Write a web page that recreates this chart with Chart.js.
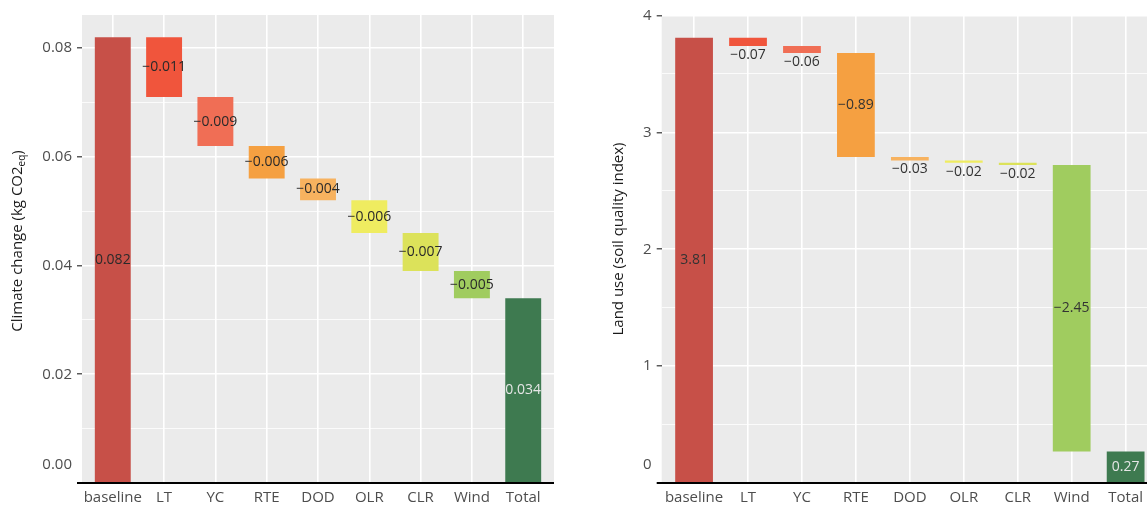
<!DOCTYPE html>
<html lang="en">
<head>
  <meta charset="UTF-8">
  <title>Waterfall charts</title>
  <script src="https://cdn.jsdelivr.net/npm/chart.js"></script>
  <style>
    body { margin: 0; background: #fff; }
    #wrap { position: relative; width: 1147px; height: 506px; overflow: hidden; }
    canvas { position: absolute; top: 0; }
  </style>
</head>
<body>

  <div id="wrap">
    <canvas id="climate" width="556" height="506" style="left:0"></canvas>
    <canvas id="land" width="578" height="506" style="left:580px"></canvas>
  </div>

  <script>
    // categories and step values
    const categories = ['baseline', 'LT', 'YC', 'RTE', 'DOD', 'OLR', 'CLR', 'Wind', 'Total'];
    const climateSteps = [0.082, -0.011, -0.009, -0.006, -0.004, -0.006, -0.007, -0.005];
    const climateTotal = [0.034];
    const landSteps = [3.81, -0.07, -0.06, -0.89, -0.03, -0.02, -0.02, -2.45];
    const landTotal = [0.27];

    const climateMajor = [0, 0.02, 0.04, 0.06, 0.08];
    const climateMinor = [0.01, 0.03, 0.05, 0.07];
    const landMajor = [0, 1, 2, 3, 4];
    const landMinor = [0.5, 1.5, 2.5, 3.5];

    const barColors = ['#c75048', '#f0553c', '#f06e55', '#f5a041', '#f7b25f',
                       '#efec60', '#dce25a', '#a0cc5f', '#3e7a50'];

    const FONT = '"Open Sans", "DejaVu Sans", sans-serif';

    // turn steps into floating bars
    function buildBars(steps, total) {
      let run = 0;
      const bars = steps.map((v, i) => {
        const lo = run;
        run += v;
        return { x: i, y: [Math.min(lo, run), Math.max(lo, run)] };
      });
      bars.push({ x: steps.length, y: [0, total[0]] });
      return bars;
    }

    function fmt(v, dec) {
      return (v < 0 ? '\u2212' : '') + Math.abs(v).toFixed(dec);
    }

    // panel background, axis line, bar labels, y title
    function decorPlugin(cfg) {
      return {
        id: 'decor',
        beforeDraw(chart) {
          const a = chart.chartArea, ctx = chart.ctx;
          ctx.save();
          ctx.fillStyle = '#ebebeb';
          ctx.fillRect(a.left, a.top, a.right - a.left, a.bottom - a.top);
          ctx.restore();
        },
        afterDatasetsDraw(chart) {
          const a = chart.chartArea, ctx = chart.ctx;
          const meta = chart.getDatasetMeta(0);
          ctx.save();
          ctx.font = cfg.labelSize + 'px ' + FONT;
          ctx.textAlign = 'center';
          ctx.textBaseline = 'middle';
          meta.data.forEach((el, i) => {
            const top = Math.min(el.y, el.base), bot = Math.max(el.y, el.base);
            let y = (top + bot) / 2;
            if (cfg.labelBelow && bot - top < 14) y = bot + 9;
            ctx.fillStyle = i === categories.length - 1 ? '#e6e6e6' : cfg.labelColor;
            ctx.fillText(fmt(cfg.values[i], cfg.dec), el.x, y);
          });

          // x axis line
          ctx.strokeStyle = '#000';
          ctx.lineWidth = 2;
          ctx.beginPath();
          ctx.moveTo(a.left - 5, a.bottom);
          ctx.lineTo(a.right, a.bottom);
          ctx.stroke();

          // zero label sits a little above the axis line
          const y0 = chart.scales.y.getPixelForValue(0);
          ctx.font = '15px ' + FONT;
          ctx.fillStyle = '#4d4d4d';
          ctx.textAlign = 'right';
          ctx.fillText(cfg.zeroLabel, a.left - 10, y0 - 18);

          // y title with optional subscript
          ctx.translate(cfg.titleX, cfg.titleY);
          ctx.rotate(-Math.PI / 2);
          ctx.fillStyle = '#1a1a1a';
          ctx.textAlign = 'left';
          ctx.font = '15px ' + FONT;
          const w1 = ctx.measureText(cfg.title[0]).width;
          ctx.font = '10px ' + FONT;
          const w2 = cfg.title[1] ? ctx.measureText(cfg.title[1]).width : 0;
          ctx.font = '15px ' + FONT;
          const w3 = cfg.title[2] ? ctx.measureText(cfg.title[2]).width : 0;
          let x = -(w1 + w2 + w3) / 2;
          ctx.fillText(cfg.title[0], x, 0);
          x += w1;
          if (cfg.title[1]) {
            ctx.font = '10px ' + FONT;
            ctx.fillText(cfg.title[1], x, 4);
            x += w2;
          }
          if (cfg.title[2]) {
            ctx.font = '15px ' + FONT;
            ctx.fillText(cfg.title[2], x, 0);
          }
          ctx.restore();
        }
      };
    }

    function makeChart(id, steps, total, major, minor, yMax, dec, cfg) {
      const values = steps.concat(total);
      const ticksAll = major.concat(minor).sort((a, b) => a - b);
      cfg.values = values;
      cfg.dec = dec;
      return new Chart(document.getElementById(id), {
        type: 'bar',
        data: {
          datasets: [{
            data: buildBars(steps, total),
            backgroundColor: barColors,
            borderWidth: 0,
            barPercentage: 0.7,
            categoryPercentage: 1.0
          }]
        },
        options: {
          responsive: false,
          animation: false,
          events: [],
          layout: { padding: { top: cfg.padTop, right: cfg.padRight, left: 0, bottom: 0 } },
          plugins: { legend: { display: false }, tooltip: { enabled: false } },
          scales: {
            x: {
              type: 'linear',
              min: -0.6,
              max: 8.6,
              offset: false,
              afterBuildTicks: s => { s.ticks = categories.map((c, i) => ({ value: i })); },
              afterFit: s => { s.height = 23; },
              ticks: {
                callback: v => categories[v],
                autoSkip: false,
                maxRotation: 0,
                padding: 6,
                color: '#4d4d4d',
                font: { family: FONT, size: 15 }
              },
              grid: { color: '#ffffff', lineWidth: 1.6, drawTicks: false, offset: false },
              border: { display: false }
            },
            y: {
              min: 0,
              max: yMax,
              afterBuildTicks: s => { s.ticks = ticksAll.map(v => ({ value: v })); },
              afterFit: s => { s.width = cfg.axisWidth; },
              ticks: {
                callback: v => (major.includes(v) && v !== 0) ? v.toFixed(cfg.tickDec) : '',
                padding: 5,
                color: '#4d4d4d',
                font: { family: FONT, size: 15 }
              },
              grid: {
                color: '#ffffff',
                lineWidth: c => major.includes(c.tick.value) ? 1.6 : 0.8,
                tickColor: c => (major.includes(c.tick.value) && c.tick.value !== 0) ? '#333' : 'rgba(0,0,0,0)',
                tickLength: 5,
                tickWidth: 1.2
              },
              border: { display: false }
            }
          }
        },
        plugins: [decorPlugin(cfg)]
      });
    }

    makeChart('climate', climateSteps, climateTotal, climateMajor, climateMinor, 0.0861, 3, {
      padTop: 15, padRight: 2, axisWidth: 82, tickDec: 2,
      labelSize: 14, labelColor: '#2a2a2a', labelBelow: false,
      zeroLabel: '0.00',
      titleX: 18, titleY: 241,
      title: ['Climate change (kg CO2', 'eq', ')']
    });

    makeChart('land', landSteps, landTotal, landMajor, landMinor, 4.0, 2, {
      padTop: 15.5, padRight: 0, axisWidth: 81.7, tickDec: 0,
      labelSize: 14, labelColor: '#333', labelBelow: true,
      zeroLabel: '0',
      titleX: 39, titleY: 239,
      title: ['Land use (soil quality index)']
    });
  </script>

</body>
</html>
